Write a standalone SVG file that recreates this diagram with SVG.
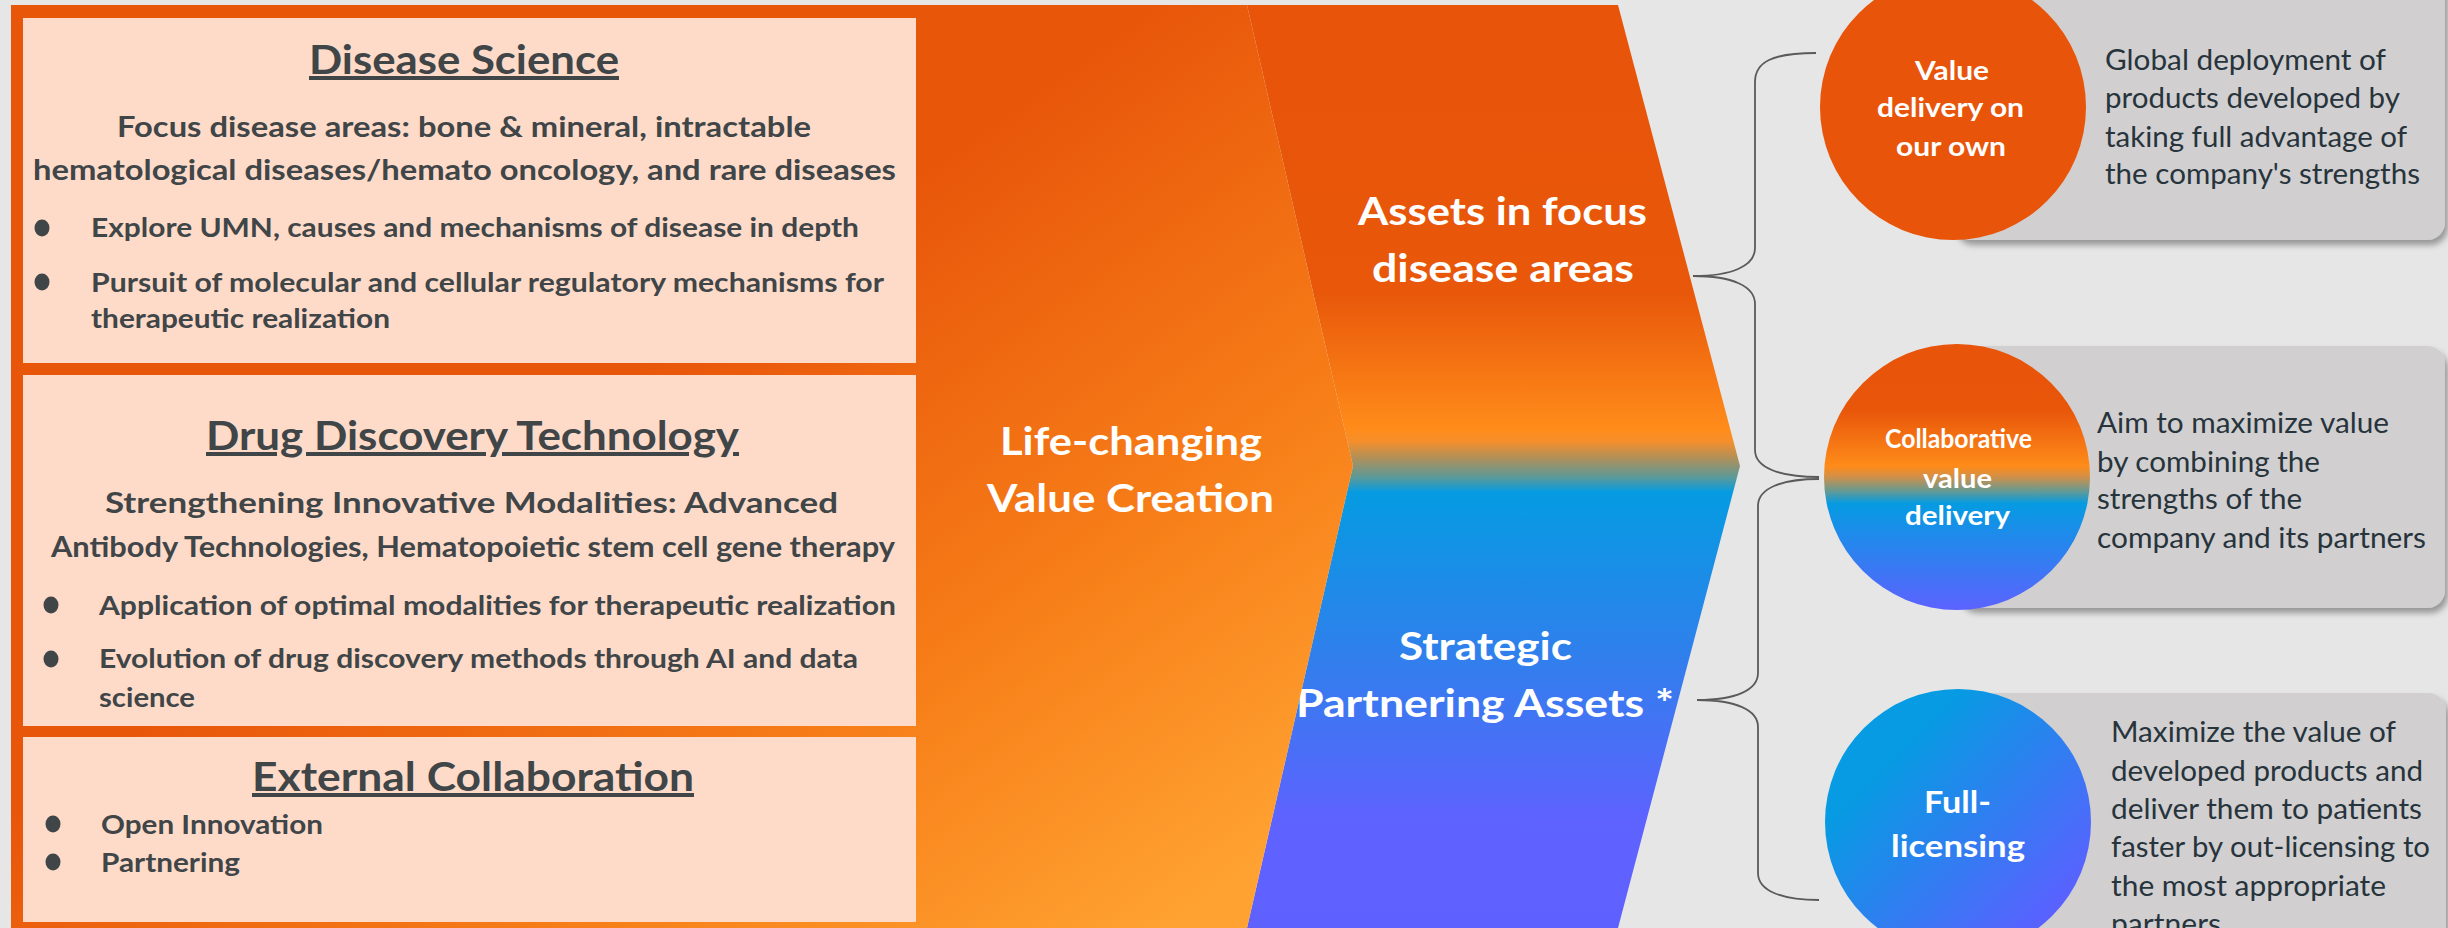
<svg xmlns="http://www.w3.org/2000/svg" width="2448" height="928" viewBox="0 0 2448 928">
<defs>
<style>
.lt{font-family:Lato,"Liberation Sans",sans-serif;font-weight:700;fill:#404548;}
.tt{font-size:40px;text-decoration:underline;}
.sh{font-size:28px;}
.bl{font-size:26px;}
.mid{font-family:Lato,"Liberation Sans",sans-serif;font-weight:700;fill:#ffffff;font-size:39px;}
.ct{font-family:Lato,"Liberation Sans",sans-serif;font-weight:700;fill:#ffffff;}
.rt{font-family:Lato,"Liberation Sans",sans-serif;font-weight:400;fill:#27343c;font-size:28px;}
.peach{fill:#fedbc8;}
.dot{fill:#404548;}
.gbox{fill:#d1cfd0;filter:url(#sh);}
.brace{fill:none;stroke:#5a5a5a;stroke-width:1.8;}
</style>
<linearGradient id="gLife" gradientUnits="userSpaceOnUse" x1="880" y1="200" x2="1320" y2="820">
<stop offset="0" stop-color="#e8560a"/>
<stop offset="0.55" stop-color="#f77e18"/>
<stop offset="1" stop-color="#ffa232"/>
</linearGradient>
<linearGradient id="gAssets" gradientUnits="userSpaceOnUse" x1="0" y1="5" x2="0" y2="928">
<stop offset="0" stop-color="#e8540a"/>
<stop offset="0.31" stop-color="#e8570a"/>
<stop offset="0.46" stop-color="#ff8c1a"/>
<stop offset="0.473" stop-color="#f58f2c"/>
<stop offset="0.493" stop-color="#a8905f"/>
<stop offset="0.512" stop-color="#5a9a9a"/>
<stop offset="0.528" stop-color="#059be2"/>
<stop offset="0.7" stop-color="#2f80ec"/>
<stop offset="0.885" stop-color="#5e62ff"/>
<stop offset="1" stop-color="#5f61ff"/>
</linearGradient>
<linearGradient id="gC2" x1="0" y1="0" x2="0" y2="1">
<stop offset="0" stop-color="#e8540a"/>
<stop offset="0.25" stop-color="#e8560a"/>
<stop offset="0.46" stop-color="#ff8c1a"/>
<stop offset="0.5" stop-color="#d0904a"/>
<stop offset="0.55" stop-color="#6a9a90"/>
<stop offset="0.6" stop-color="#059be2"/>
<stop offset="1" stop-color="#5c62ff"/>
</linearGradient>
<linearGradient id="gC3" x1="0.25" y1="0.25" x2="0.85" y2="0.85">
<stop offset="0" stop-color="#069be2"/>
<stop offset="1" stop-color="#5a61ff"/>
</linearGradient>
<filter id="sh" x="-5%" y="-5%" width="115%" height="120%">
<feDropShadow dx="3" dy="5" stdDeviation="3" flood-color="#000" flood-opacity="0.35"/>
</filter>
</defs>
<rect width="2448" height="928" fill="#e6e6e6"/>

<g id="assets-shape">
<polygon points="1247,5 1618,5 1740,466 1618,928 1247,928 1353,466" fill="url(#gAssets)"/>
<text class="mid" x="1358" y="225" textLength="289" lengthAdjust="spacingAndGlyphs">Assets in focus</text>
<text class="mid" x="1372" y="282" textLength="262" lengthAdjust="spacingAndGlyphs">disease areas</text>
<text class="mid" x="1399" y="660" textLength="173" lengthAdjust="spacingAndGlyphs">Strategic</text>
<text class="mid" x="1296" y="717" textLength="378" lengthAdjust="spacingAndGlyphs">Partnering Assets *</text>
</g>

<g id="life-changing">
<polygon points="11,5 1247,5 1353,466 1247,928 11,928" fill="url(#gLife)"/>
<text class="mid" x="1000" y="455" textLength="262" lengthAdjust="spacingAndGlyphs">Life-changing</text>
<text class="mid" x="987" y="512" textLength="287" lengthAdjust="spacingAndGlyphs">Value Creation</text>
</g>

<g id="disease-science">
<rect class="peach" x="23" y="18" width="893" height="345"/>
<text class="lt tt" x="309" y="74" textLength="310" lengthAdjust="spacingAndGlyphs">Disease Science</text>
<text class="lt sh" x="117" y="137" textLength="694" lengthAdjust="spacingAndGlyphs">Focus disease areas: bone &amp; mineral, intractable</text>
<text class="lt sh" x="33" y="180" textLength="863" lengthAdjust="spacingAndGlyphs">hematological diseases/hemato oncology, and rare diseases</text>
<ellipse class="dot" cx="42" cy="228" rx="7.5" ry="8.5"/>
<text class="lt bl" x="91" y="237" textLength="768" lengthAdjust="spacingAndGlyphs">Explore UMN, causes and mechanisms of disease in depth</text>
<ellipse class="dot" cx="42" cy="282" rx="7.5" ry="8.5"/>
<text class="lt bl" x="91" y="292" textLength="793" lengthAdjust="spacingAndGlyphs">Pursuit of molecular and cellular regulatory mechanisms for</text>
<text class="lt bl" x="91" y="328" textLength="299" lengthAdjust="spacingAndGlyphs">therapeutic realization</text>
</g>

<g id="drug-discovery">
<rect class="peach" x="23" y="375" width="893" height="351"/>
<text class="lt tt" x="206" y="450" textLength="533" lengthAdjust="spacingAndGlyphs">Drug Discovery Technology</text>
<text class="lt sh" x="105" y="513" textLength="733" lengthAdjust="spacingAndGlyphs">Strengthening Innovative Modalities: Advanced</text>
<text class="lt sh" x="51" y="557" textLength="844" lengthAdjust="spacingAndGlyphs">Antibody Technologies, Hematopoietic stem cell gene therapy</text>
<ellipse class="dot" cx="51" cy="605" rx="7.5" ry="8.5"/>
<text class="lt bl" x="99" y="615" textLength="797" lengthAdjust="spacingAndGlyphs">Application of optimal modalities for therapeutic realization</text>
<ellipse class="dot" cx="51" cy="659" rx="7.5" ry="8.5"/>
<text class="lt bl" x="99" y="668" textLength="759" lengthAdjust="spacingAndGlyphs">Evolution of drug discovery methods through AI and data</text>
<text class="lt bl" x="99" y="707" textLength="96" lengthAdjust="spacingAndGlyphs">science</text>
</g>

<g id="external-collaboration">
<rect class="peach" x="23" y="737" width="893" height="185"/>
<text class="lt tt" x="252" y="791" textLength="442" lengthAdjust="spacingAndGlyphs">External Collaboration</text>
<ellipse class="dot" cx="53" cy="824" rx="7.5" ry="8.5"/>
<text class="lt bl" x="101" y="834" textLength="222" lengthAdjust="spacingAndGlyphs">Open Innovation</text>
<ellipse class="dot" cx="53" cy="862" rx="7.5" ry="8.5"/>
<text class="lt bl" x="101" y="872" textLength="139" lengthAdjust="spacingAndGlyphs">Partnering</text>
</g>

<g id="connectors">
<path class="brace" d="M1816,53 C1772,53 1755,62 1755,82 L1755,248 C1755,266 1732,276 1693,276 C1732,276 1755,286 1755,304 L1755,450 C1755,468 1780,477 1819,477"/>
<path class="brace" d="M1819,479 C1782,479 1758,488 1758,506 L1758,673 C1758,690 1736,700 1697,700 C1736,700 1758,710 1758,727 L1758,873 C1758,891 1782,900 1819,900"/>
</g>

<g id="value-own">
<rect class="gbox" x="1953" y="-30" width="492" height="270" rx="18"/>
<circle cx="1953" cy="107" r="133" fill="#e8540a"/>
<text class="ct" font-size="27" x="1915" y="80" textLength="74" lengthAdjust="spacingAndGlyphs">Value</text>
<text class="ct" font-size="27" x="1877" y="117" textLength="147" lengthAdjust="spacingAndGlyphs">delivery on</text>
<text class="ct" font-size="27" x="1896" y="156" textLength="110" lengthAdjust="spacingAndGlyphs">our own</text>
<text class="rt" x="2105" y="70" textLength="281" lengthAdjust="spacingAndGlyphs">Global deployment of</text>
<text class="rt" x="2105" y="108" textLength="295" lengthAdjust="spacingAndGlyphs">products developed by</text>
<text class="rt" x="2105" y="147" textLength="302" lengthAdjust="spacingAndGlyphs">taking full advantage of</text>
<text class="rt" x="2105" y="184" textLength="315" lengthAdjust="spacingAndGlyphs">the company's strengths</text>
</g>

<g id="value-collab">
<rect class="gbox" x="1957" y="346" width="488" height="262" rx="18"/>
<circle cx="1957" cy="477" r="133" fill="url(#gC2)"/>
<text class="ct" font-size="26" x="1885" y="448" textLength="147" lengthAdjust="spacingAndGlyphs">Collaborative</text>
<text class="ct" font-size="27" x="1923" y="488" textLength="69" lengthAdjust="spacingAndGlyphs">value</text>
<text class="ct" font-size="27" x="1905" y="525" textLength="105" lengthAdjust="spacingAndGlyphs">delivery</text>
<text class="rt" x="2097" y="433" textLength="292" lengthAdjust="spacingAndGlyphs">Aim to maximize value</text>
<text class="rt" x="2097" y="472" textLength="223" lengthAdjust="spacingAndGlyphs">by combining the</text>
<text class="rt" x="2097" y="509" textLength="205" lengthAdjust="spacingAndGlyphs">strengths of the</text>
<text class="rt" x="2097" y="548" textLength="329" lengthAdjust="spacingAndGlyphs">company and its partners</text>
</g>

<g id="full-licensing">
<rect class="gbox" x="1958" y="693" width="488" height="270" rx="18"/>
<circle cx="1958" cy="822" r="133" fill="url(#gC3)"/>
<text class="ct" font-size="30" x="1924" y="813" textLength="67" lengthAdjust="spacingAndGlyphs">Full-</text>
<text class="ct" font-size="30" x="1891" y="857" textLength="134" lengthAdjust="spacingAndGlyphs">licensing</text>
<text class="rt" x="2111" y="742" textLength="285" lengthAdjust="spacingAndGlyphs">Maximize the value of</text>
<text class="rt" x="2111" y="781" textLength="312" lengthAdjust="spacingAndGlyphs">developed products and</text>
<text class="rt" x="2111" y="819" textLength="311" lengthAdjust="spacingAndGlyphs">deliver them to patients</text>
<text class="rt" x="2111" y="857" textLength="319" lengthAdjust="spacingAndGlyphs">faster by out-licensing to</text>
<text class="rt" x="2111" y="896" textLength="275" lengthAdjust="spacingAndGlyphs">the most appropriate</text>
<text class="rt" x="2111" y="934" textLength="110" lengthAdjust="spacingAndGlyphs">partners</text>
</g>
</svg>
